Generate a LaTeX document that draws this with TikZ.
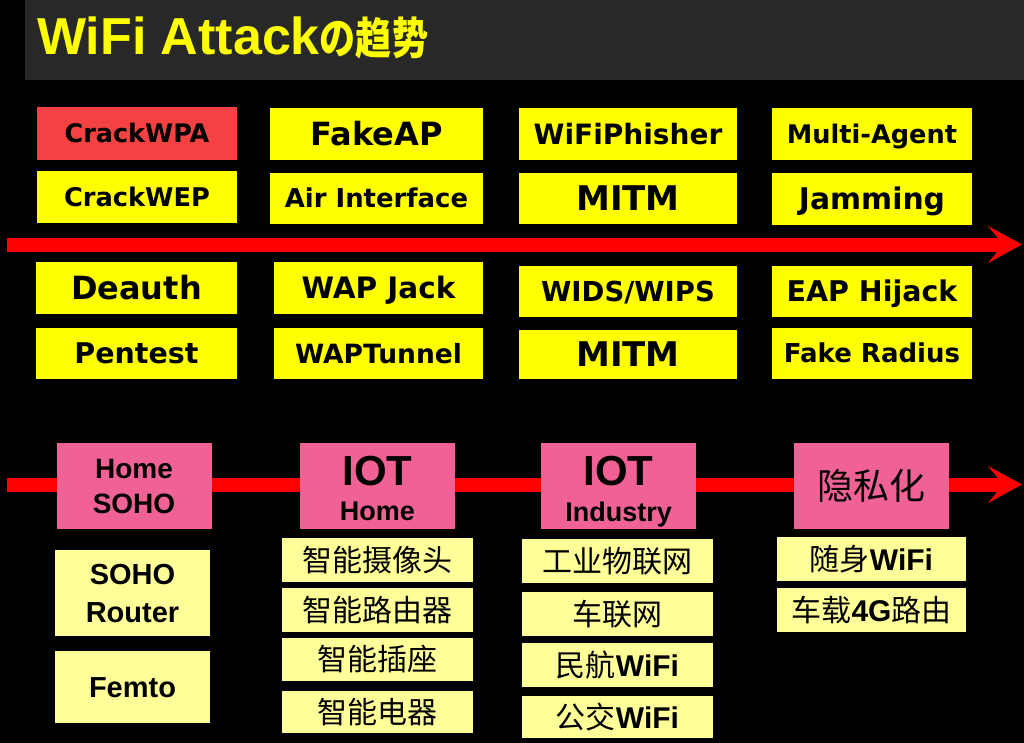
\documentclass[tikz,border=0pt]{standalone}
\usepackage{fontspec}
\usepackage{graphicx}
\setmainfont{DejaVu Sans}
\newfontfamily\lib{Liberation Sans}
\newfontfamily\cjk{Noto Sans CJK SC}
\usetikzlibrary{arrows.meta}
\definecolor{yel}{RGB}{255,255,0}
\definecolor{pale}{RGB}{255,255,153}
\definecolor{redbox}{RGB}{244,66,66}
\definecolor{pinkbox}{RGB}{240,98,150}
\definecolor{arrred}{RGB}{255,0,0}
\definecolor{barcol}{RGB}{40,40,40}
\tikzset{
  x=1pt, y=-1pt,
  anybox/.style={inner sep=0pt, outer sep=0pt, text=black},
  ybox/.style={anybox, fill=yel},
  rbox/.style={anybox, fill=redbox},
  pbox/.style={anybox, fill=pinkbox, minimum width=155pt, minimum height=86pt},
  lbox/.style={anybox, fill=pale},
  dj/.code={%
    \pgfmathsetmacro\mycaph{0.729*#1}%
    \edef\mytmp{\noexpand\tikzset{font=\noexpand\bfseries\noexpand\fontsize{#1pt}{#1pt}\noexpand\selectfont, text height=\mycaph pt, text depth=0pt}}%
    \mytmp},
  ls/.code={%
    \pgfmathsetmacro\mycaph{0.716*#1}%
    \edef\mytmp{\noexpand\tikzset{font=\noexpand\lib\noexpand\bfseries\noexpand\fontsize{#1pt}{#1pt}\noexpand\selectfont, text height=\mycaph pt, text depth=0pt}}%
    \mytmp},
  ck/.code={%
    \pgfmathsetmacro\mycaph{0.75*#1}%
    \edef\mytmp{\noexpand\tikzset{font=\noexpand\cjk\noexpand\fontsize{#1pt}{#1pt}\noexpand\selectfont, text height=\mycaph pt, text depth=0pt}}%
    \mytmp},
  lf/.style={font=\lib\bfseries\fontsize{#1pt}{#1pt}\selectfont, inner sep=0pt, text=black, anchor=base},
  timeline/.style={draw=arrred, line width=14pt, -{Stealth[length=34pt, width=37pt, inset=15pt, line width=0pt]}},
}
\newcommand{\wf}[1]{{\lib\bfseries #1}}
\begin{document}
\begin{tikzpicture}
\useasboundingbox (0,0) rectangle (1024,743);
\fill[black] (0,0) rectangle (1024,743);
% title bar
\node[anybox, fill=barcol, minimum width=999pt, minimum height=80pt, anchor=north west] (bar) at (25,0) {};
\node[anchor=base west, inner sep=0pt, text=yel, font=\lib\bfseries\fontsize{52pt}{52pt}\selectfont] (title) at (37,55) {WiFi Attack\scalebox{0.82}[1]{\cjk\bfseries\fontsize{44pt}{44pt}\selectfont の趋势}};

% timelines
\coordinate (a1s) at (7,244.5);
\coordinate (a1e) at (1022,244.5);
\draw[timeline] (a1s) -- (a1e);
\coordinate (a2s) at (7,484.5);
\coordinate (a2e) at (1022,484.5);
\draw[timeline] (a2s) -- (a2e);

% top rows
\node[rbox, minimum width=200pt, minimum height=53pt, dj=25.5] (crackwpa) at (137,133.5) {CrackWPA};
\node[ybox, minimum width=200pt, minimum height=52pt, dj=25.7] (crackwep) at (137,197) {CrackWEP};
\node[ybox, minimum width=213pt, minimum height=52pt, dj=32] (fakeap) at (376.5,134) {FakeAP};
\node[ybox, minimum width=213pt, minimum height=51pt, dj=25.9] (airif) at (376.5,198.5) {Air Interface};
\node[ybox, minimum width=218pt, minimum height=52pt, dj=28] (wifiph) at (628,134) {WiFiPhisher};
\node[ybox, minimum width=218pt, minimum height=51pt, dj=34] (mitma) at (628,198.5) {MITM};
\node[ybox, minimum width=200pt, minimum height=52pt, dj=25.6] (multi) at (872,134) {Multi-Agent};
\node[ybox, minimum width=200pt, minimum height=52pt, dj=29.8] (jam) at (872,199) {Jamming};

\node[ybox, minimum width=201pt, minimum height=52pt, dj=32] (deauth) at (136.5,288) {Deauth};
\node[ybox, minimum width=201pt, minimum height=51pt, dj=28.5] (pentest) at (136.5,353.5) {Pentest};
\node[ybox, minimum width=209pt, minimum height=52pt, dj=29.5] (wapjack) at (378.5,288) {WAP Jack};
\node[ybox, minimum width=209pt, minimum height=51pt, dj=26.5] (waptun) at (378.5,353.5) {WAPTunnel};
\node[ybox, minimum width=218pt, minimum height=51pt, dj=27.5] (wids) at (628,291.5) {WIDS/WIPS};
\node[ybox, minimum width=218pt, minimum height=49pt, dj=34] (mitmb) at (628,354.5) {MITM};
\node[ybox, minimum width=200pt, minimum height=51pt, dj=28.5] (eap) at (872,291.5) {EAP Hijack};
\node[ybox, minimum width=200pt, minimum height=51pt, dj=26] (fakerad) at (872,353.5) {Fake Radius};

% bottom pink stages
\node[pbox] (hsoho) at (134,486) {};
\node[lf=28] (hsohoa) at (134,478) {Home};
\node[lf=28] (hsohob) at (134,513) {SOHO};
\node[pbox] (iothome) at (377.5,486) {};
\node[lf=42] (iothomea) at (377.5,485) {IOT};
\node[lf=27] (iothomeb) at (377.5,520) {Home};
\node[pbox] (iotind) at (618.5,486) {};
\node[lf=42] (iotinda) at (618.5,485) {IOT};
\node[lf=27] (iotindb) at (618.5,521) {Industry};
\node[pbox, ck=36] (priv) at (871.5,486) {隐私化};

% SOHO column
\node[lbox, minimum width=155pt, minimum height=86pt] (router) at (132.5,593) {};
\node[lf=29] (routera) at (132.5,584) {SOHO};
\node[lf=29] (routerb) at (132.5,622) {Router};
\node[lbox, minimum width=155pt, minimum height=72pt, ls=29] (femto) at (132.5,687) {Femto};

% IOT home column
\node[lbox, minimum width=191pt, minimum height=44pt, ck=30] (cam) at (377.5,560) {智能摄像头};
\node[lbox, minimum width=191pt, minimum height=44pt, ck=30] (srout) at (377.5,610) {智能路由器};
\node[lbox, minimum width=191pt, minimum height=43pt, ck=30] (sock) at (377.5,659.5) {智能插座};
\node[lbox, minimum width=191pt, minimum height=42pt, ck=30] (appl) at (377.5,712) {智能电器};

% IOT industry column
\node[lbox, minimum width=191pt, minimum height=44pt, ck=30] (iiot) at (617.5,561) {工业物联网};
\node[lbox, minimum width=191pt, minimum height=44pt, ck=30] (car) at (617.5,614) {车联网};
\node[lbox, minimum width=191pt, minimum height=44pt, ck=30] (air) at (617.5,665) {民航\wf{WiFi}};
\node[lbox, minimum width=191pt, minimum height=42pt, ck=30] (bus) at (617.5,717) {公交\wf{WiFi}};

% privacy column
\node[lbox, minimum width=189pt, minimum height=44pt, ck=30] (porta) at (871.5,559) {随身\wf{WiFi}};
\node[lbox, minimum width=189pt, minimum height=44pt, ck=30] (car4g) at (871.5,610) {车载\wf{4G}路由};
\end{tikzpicture}
\end{document}
